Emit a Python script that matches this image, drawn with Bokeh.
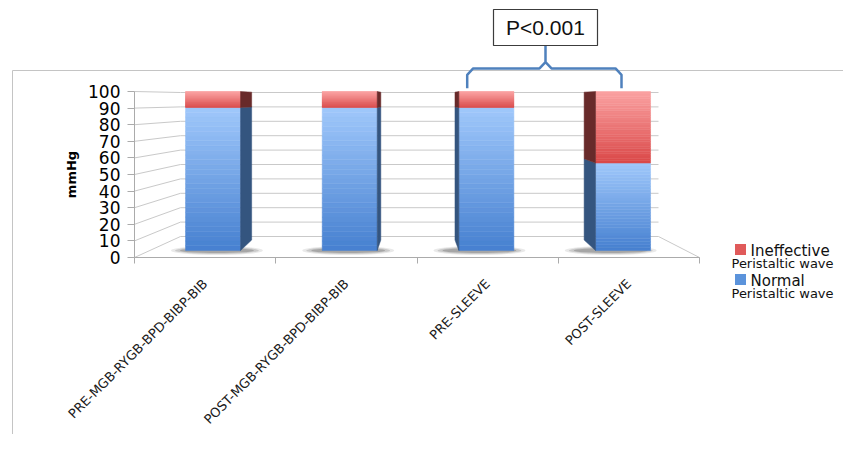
import math
import numpy as np
from bokeh.plotting import figure
from bokeh.models import Range1d, FixedTicker
from bokeh.embed import file_html
from bokeh.resources import INLINE
from bokeh.core.properties import value

# ---------------- data ----------------
categories = ["PRE-MGB-RYGB-BPD-BIBP-BIB", "POST-MGB-RYGB-BPD-BIBP-BIB",
              "PRE-SLEEVE", "POST-SLEEVE"]
normal = [90, 90, 90, 55]
ineffective = [10, 10, 10, 45]
y_ticks = [0, 10, 20, 30, 40, 50, 60, 70, 80, 90, 100]
legend_main = ["Ineffective", "Normal"]
legend_sub = ["Peristaltic wave", "Peristaltic wave"]
y_title = "mmHg"
p_label = "P<0.001"

# ---------------- layout helpers (canvas pixels) ----------------
W, H = 843, 434
AX_LEFT, AX_BOTTOM = 134.0, 257.0
PX_CAT, PX_UNIT = 141.25, 1.66


def X(px):
    return (px - AX_LEFT) / PX_CAT


def Y(py):
    return (AX_BOTTOM - py) / PX_UNIT


# back plane (bars) scale
BX0, BDX = 144.2, 136.67
BY0, BDY = 250.0, 1.59

p = figure(width=W, height=H, output_backend="svg", toolbar_location=None,
           x_range=Range1d(X(0), X(W)), y_range=Range1d(Y(H), Y(0)),
           min_border_left=0, min_border_right=0, min_border_top=0,
           min_border_bottom=0, background_fill_color="white",
           border_fill_color="white")
p.extra_x_ranges = {"bx": Range1d((0 - BX0) / BDX, (W - BX0) / BDX)}
p.extra_y_ranges = {"by": Range1d((BY0 - H) / BDY, BY0 / BDY)}
p.grid.visible = False
p.outline_line_color = None

# outer chart border
BORDER = "#c4c4c4"
p.segment(x0=[X(12), X(12)], y0=[Y(70), Y(70)], x1=[X(W), X(12)], y1=[Y(70), Y(H)],
          line_color=BORDER, line_width=1)

# ---------------- 3D-ish grid ----------------
GRID = "#c9c9c9"
wall_l, wall_r = 180.0, 658.0
wall_y = [236.0 - 1.44 * v for v in y_ticks]
p.segment(x0=[X(wall_l)] * len(y_ticks), y0=[Y(w) for w in wall_y],
          x1=[X(wall_r)] * len(y_ticks), y1=[Y(w) for w in wall_y],
          line_color=GRID, line_width=1)
p.segment(x0=[0] * len(y_ticks), y0=y_ticks,
          x1=[X(wall_l)] * len(y_ticks), y1=[Y(w) for w in wall_y],
          line_color=GRID, line_width=1)
p.segment(x0=[X(wall_r)], y0=[Y(wall_y[0])], x1=[len(categories)], y1=[0],
          line_color=GRID, line_width=1)

# ---------------- bars ----------------
HW = 27.5 / BDX
VP_X, VP_V, K_SIDE, SHRINK = 415.0, 94.3, 0.055, 0.93
N = 30


def lerp(c0, c1, t):
    a = np.array([int(c0[i:i + 2], 16) for i in (1, 3, 5)], float)
    b = np.array([int(c1[i:i + 2], 16) for i in (1, 3, 5)], float)
    r = a + (b - a) * t
    return "#%02x%02x%02x" % tuple(int(round(v)) for v in r)


blue_bot, blue_top = "#4680d0", "#a0c8fb"
red_bot, red_top = "#da4848", "#fba2a2"
blue_side, red_side = "#34557f", "#682a2a"

for i in range(len(categories)):
    c = i + 0.5
    cp = BX0 + c * BDX
    s = K_SIDE * (cp - VP_X)
    # soft floor shadow
    for wdt, hgt, alp in [(92, 9, 0.10), (84, 7, 0.16), (74, 5, 0.22)]:
        p.ellipse(x=[c - 0.72 * s / BDX - 0.03], y=[0], width=wdt, height=hgt,
                  width_units="screen", height_units="screen",
                  fill_color="#2a2a2a", fill_alpha=alp, line_color=None,
                  x_range_name="bx", y_range_name="by")
    segs = [(0, normal[i], blue_bot, blue_top, blue_side),
            (normal[i], normal[i] + ineffective[i], red_bot, red_top, red_side)]
    for (b, t, cb, ct, cs) in segs:
        edges = np.linspace(b, t, N + 1)
        cols = [lerp(cb, ct, (k + 0.5) / N) for k in range(N)]
        p.quad(left=c - HW, right=c + HW, bottom=edges[:-1], top=edges[1:],
               fill_color=cols, line_color=cols, line_width=0.5,
               x_range_name="bx", y_range_name="by")
        if s < 0:
            fx = c + HW
            bx = fx + (-s) / BDX
        else:
            fx = c - HW
            bx = fx - s / BDX
        vb = lambda v: VP_V + (v - VP_V) * SHRINK
        p.patch(x=[fx, bx, bx, fx], y=[b, vb(b), vb(t), t],
                fill_color=cs, line_color=cs, line_width=0.5,
                x_range_name="bx", y_range_name="by")

# ---------------- axes (drawn at fixed locations inside the canvas) ----------------
AXC = "#ababab"
ya = p.yaxis[0]
ya.fixed_location = 0
ya.ticker = FixedTicker(ticks=y_ticks)
ya.bounds = (0, 100)
ya.axis_line_color = AXC
ya.major_tick_line_color = AXC
ya.major_tick_out = 7
ya.major_tick_in = 0
ya.minor_tick_line_color = None
ya.major_label_text_font = "DejaVu Sans"
ya.major_label_text_font_size = "17px"
ya.major_label_text_color = "#000000"
ya.major_label_standoff = 7
ya.axis_label = y_title
ya.axis_label_text_font = "DejaVu Sans"
ya.axis_label_text_font_style = "bold"
ya.axis_label_text_font_size = "13px"
ya.axis_label_text_color = "#000000"
ya.axis_label_standoff = 6

xa = p.xaxis[0]
xa.fixed_location = 0
centers = [i + 0.5 for i in range(len(categories))]
xa.ticker = FixedTicker(ticks=centers, minor_ticks=list(range(len(categories) + 1)))
xa.major_label_overrides = {c: lab for c, lab in zip(centers, categories)}
xa.bounds = (0, len(categories))
xa.axis_line_color = AXC
xa.major_tick_line_color = None
xa.major_tick_out = 0
xa.major_tick_in = 0
xa.minor_tick_line_color = AXC
xa.minor_tick_out = 6
xa.minor_tick_in = 0
xa.major_label_orientation = math.pi / 4
xa.major_label_text_font = "DejaVu Sans"
xa.major_label_text_font_size = "13px"
xa.major_label_text_color = "#1a1a1a"
xa.major_label_standoff = 18

# ---------------- bracket + P box ----------------
BR = "#4f81bd"
xl, xr, xc = (466.7 - BX0) / BDX, (621.0 - BX0) / BDX, (545.0 - BX0) / BDX
total_max = max(n + e for n, e in zip(normal, ineffective))
yb, yh, yp = total_max + 2, total_max + 14.5, total_max + 29
rx, ry = 6 / BDX, 4.0
p.line(x=[xl, xl, xl + rx, xc - rx, xc, xc, xc, xc + rx, xr - rx, xr, xr],
       y=[yb, yh - ry, yh, yh, yh + ry, yp, yh + ry, yh, yh, yh - ry, yb],
       line_color=BR, line_width=2.5, line_join="round",
       x_range_name="bx", y_range_name="by")
p.rect(x=[X(545)], y=[Y(27)], width=104, height=36, width_units="screen",
       height_units="screen", fill_color="white", line_color="#3c3c3c",
       line_width=1.2)
p.text(x=[X(545)], y=[Y(27)], text=[p_label], text_align="center",
       text_baseline="middle", text_font=value("Liberation Sans"),
       text_font_size=value("21px"), text_color="#111111")

# ---------------- legend ----------------
leg_cols = ["#e05a5a", "#5b93db"]
sq_y = [249.0, 279.0]
for k in range(2):
    p.rect(x=[X(740)], y=[Y(sq_y[k])], width=11, height=11,
           width_units="screen", height_units="screen",
           fill_color=leg_cols[k], line_color=None)
    p.text(x=[X(750)], y=[Y(sq_y[k] + 1)], text=[legend_main[k]],
           text_align="left", text_baseline="middle",
           text_font=value("DejaVu Sans"), text_font_size=value("15px"),
           text_color="#111111")
    p.text(x=[X(731)], y=[Y(sq_y[k] + 14)], text=[legend_sub[k]],
           text_align="left", text_baseline="middle",
           text_font=value("DejaVu Sans"), text_font_size=value("13px"),
           text_color="#111111")

open("out.html", "w").write(file_html(p, INLINE))
